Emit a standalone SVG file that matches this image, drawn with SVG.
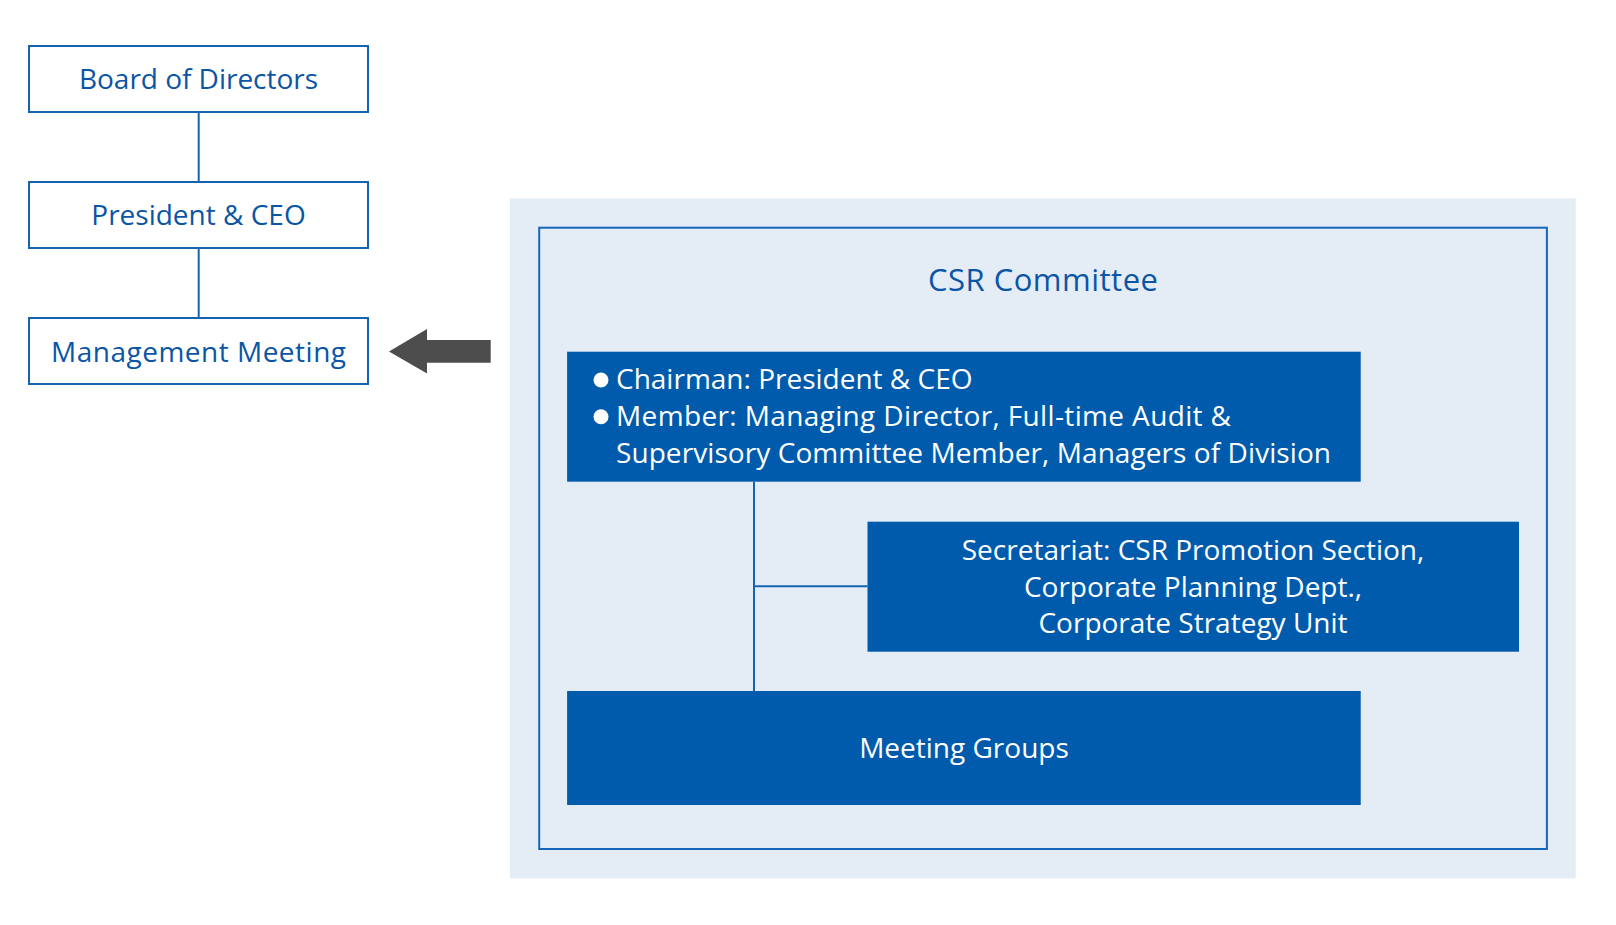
<svg xmlns="http://www.w3.org/2000/svg" width="1616" height="925" viewBox="0 0 1616 925">
<style>
.obox{fill:#ffffff;stroke:#1463B3;stroke-width:2}
.dbox{fill:#005BAC}
.t{font-family:"Open Sans","Noto Sans","Liberation Sans",sans-serif;font-size:28px}
.tb{fill:#0B55A5}
.tw{fill:#ffffff}
.con{stroke:#1463B3;stroke-width:2;fill:none}
</style>
<rect x="0" y="0" width="1616" height="925" fill="#ffffff"/>
<g id="csr-area">
<rect x="510" y="198.3" width="1065.7" height="680" fill="#E4ECF6"/>
<rect x="539.2" y="227.7" width="1007.7" height="621.3" fill="none" stroke="#1766BA" stroke-width="2"/>
<text class="t tb" x="1043" y="291" text-anchor="middle" style="font-size:31px" textLength="230" lengthAdjust="spacing">CSR Committee</text>
</g>
<g id="connectors">
<line class="con" x1="198.7" y1="113" x2="198.7" y2="181"/>
<line class="con" x1="198.7" y1="249" x2="198.7" y2="317"/>
<line class="con" x1="754" y1="481.7" x2="754" y2="691"/>
<line class="con" x1="754" y1="586.3" x2="867.5" y2="586.3"/>
<polygon id="arrow" points="389,351.5 427,329 427,340 490.7,340 490.7,362.7 427,362.7 427,373.5" fill="#4D4D4D"/>
</g>
<g id="board">
<rect class="obox" x="29" y="46" width="339" height="66"/>
<text class="t tb" x="198.5" y="89.3" text-anchor="middle" textLength="239" lengthAdjust="spacing">Board of Directors</text>
</g>
<g id="president">
<rect class="obox" x="29" y="182" width="339" height="66"/>
<text class="t tb" x="198.5" y="225" text-anchor="middle">President &amp; CEO</text>
</g>
<g id="management">
<rect class="obox" x="29" y="318" width="339" height="66"/>
<text class="t tb" x="198.5" y="361.7" text-anchor="middle" textLength="295" lengthAdjust="spacing">Management Meeting</text>
</g>
<g id="chairman">
<rect class="dbox" x="567.1" y="351.7" width="793.6" height="130"/>
<circle cx="601" cy="380" r="7.5" fill="#ffffff"/>
<circle cx="601" cy="416.7" r="7.5" fill="#ffffff"/>
<text class="t tw" x="616" y="389.3">Chairman: President &amp; CEO</text>
<text class="t tw" x="616" y="426" textLength="615" lengthAdjust="spacing">Member: Managing Director, Full-time Audit &amp;</text>
<text class="t tw" x="616" y="462.7" textLength="715" lengthAdjust="spacing">Supervisory Committee Member, Managers of Division</text>
</g>
<g id="secretariat">
<rect class="dbox" x="867.5" y="521.7" width="651.5" height="130"/>
<text class="t tw" x="1193" y="559.5" text-anchor="middle">Secretariat: CSR Promotion Section,</text>
<text class="t tw" x="1193" y="596.7" text-anchor="middle">Corporate Planning Dept.,</text>
<text class="t tw" x="1193" y="633.3" text-anchor="middle">Corporate Strategy Unit</text>
</g>
<g id="meeting-groups">
<rect class="dbox" x="567.1" y="691" width="793.6" height="114"/>
<text class="t tw" x="964" y="757.7" text-anchor="middle">Meeting Groups</text>
</g>
</svg>
